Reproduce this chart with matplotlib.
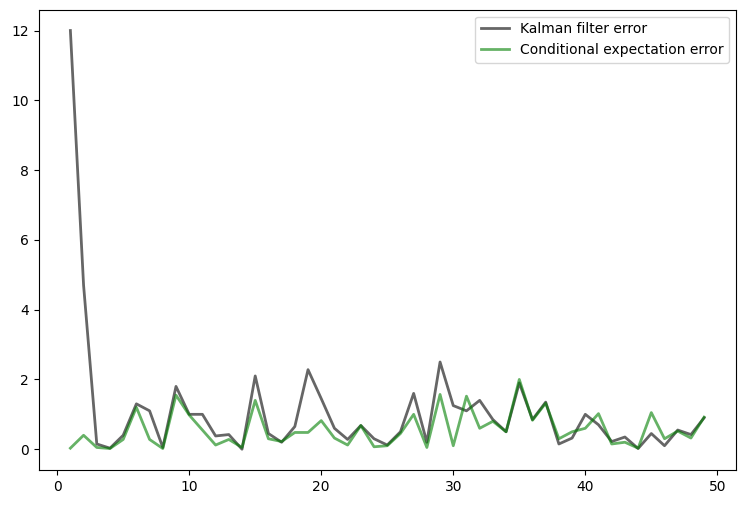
import numpy as np
import matplotlib
matplotlib.use("Agg")
import matplotlib.pyplot as plt

t = np.arange(1, 50)

kalman_err = [12.0, 4.7, 0.15, 0.03, 0.4, 1.3, 1.1, 0.05, 1.8, 1.0,
              1.0, 0.38, 0.42, 0.0, 2.1, 0.45, 0.2, 0.65, 2.28, 1.45,
              0.6, 0.28, 0.68, 0.3, 0.12, 0.5, 1.6, 0.2, 2.5, 1.25,
              1.1, 1.4, 0.85, 0.5, 1.9, 0.85, 1.35, 0.15, 0.32, 1.0,
              0.7, 0.22, 0.35, 0.02, 0.45, 0.1, 0.55, 0.42, 0.9]

cond_err = [0.03, 0.4, 0.05, 0.02, 0.28, 1.2, 0.28, 0.02, 1.55, 0.98,
            0.55, 0.12, 0.28, 0.05, 1.4, 0.3, 0.22, 0.48, 0.48, 0.82,
            0.32, 0.12, 0.68, 0.07, 0.1, 0.45, 1.0, 0.05, 1.57, 0.1,
            1.52, 0.6, 0.8, 0.5, 2.0, 0.83, 1.32, 0.3, 0.5, 0.6,
            1.02, 0.15, 0.2, 0.03, 1.05, 0.3, 0.52, 0.32, 0.92]

fig, ax = plt.subplots(figsize=(7.44, 5.05), dpi=100)
ax.plot(t, kalman_err, 'k-', lw=2, alpha=0.6, label='Kalman filter error')
ax.plot(t, cond_err, 'g-', lw=2, alpha=0.6, label='Conditional expectation error')
ax.legend()
fig.subplots_adjust(left=0.052, right=0.989, top=0.981, bottom=0.069)
fig.savefig("out.png", dpi=100)
